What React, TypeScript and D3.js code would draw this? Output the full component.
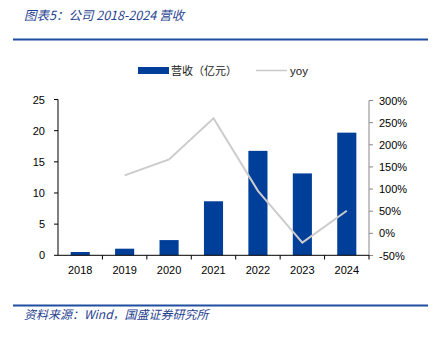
import React from "react";
import * as d3 from "d3";

const years = ["2018", "2019", "2020", "2021", "2022", "2023", "2024"];
const revenue = [0.53, 1.06, 2.44, 8.67, 16.76, 13.14, 19.68];
const yoy: (number | null)[] = [null, 131, 167, 260, 96, -21, 51];
const leftTicks = [0, 5, 10, 15, 20, 25];
const rightTicks = [-50, 0, 50, 100, 150, 200, 250, 300];

const W = 434;
const H = 337;
const FONT = "'Liberation Sans', Arial, sans-serif";
const CJK = "'Noto Sans CJK SC', sans-serif";

export default function App() {
  const x = d3.scaleBand().domain(years).range([58, 369]).paddingInner(0.57).paddingOuter(0.285);
  const yL = d3.scaleLinear().domain([0, 25]).range([255.3, 99.5]);
  const yR = d3.scaleLinear().domain([-50, 300]).range([255.5, 100.5]);
  const cx = (d: string) => (x(d) as number) + x.bandwidth() / 2;
  const line = d3
    .line<[string, number | null]>()
    .defined((d) => d[1] !== null)
    .x((d) => cx(d[0]))
    .y((d) => yR(d[1] as number));
  const pairs: [string, number | null][] = years.map((y, i) => [y, yoy[i]]);
  const step = (369 - 58) / years.length;

  return (
    <svg width={W} height={H} style={{ position: "absolute", left: 0, top: 0, background: "#fff" }}>
      <text x={24} y={20} fontFamily={CJK} fontStyle="italic" fontSize={12.5} fill="#1f3f8f">
        图表5：公司 2018-2024 营收
      </text>
      <line x1={13} x2={428} y1={39.5} y2={39.5} stroke="#1f4ea0" strokeWidth={2} />

      {/* legend */}
      <rect x={138} y={67} width={31} height={7} fill="#003f99" />
      <text x={171} y={74.5} fontFamily={CJK} fontSize={11} fill="#222">营收（亿元）</text>
      <line x1={256} x2={287} y1={70.5} y2={70.5} stroke="#c8c8c8" strokeWidth={1.5} />
      <text x={290} y={74.5} fontFamily={FONT} fontSize={11.5} fill="#222">yoy</text>

      {/* bars */}
      {revenue.map((v, i) => (
        <rect key={years[i]} x={x(years[i])} y={yL(v)} width={x.bandwidth()} height={yL(0) - yL(v)} fill="#003f99" />
      ))}

      {/* yoy line */}
      <path d={line(pairs) || ""} fill="none" stroke="#cccccc" strokeWidth={2} />

      {/* left axis */}
      <line x1={58} x2={58} y1={yL(25)} y2={yL(0)} stroke="#000" strokeWidth={1} />
      {leftTicks.map((t) => (
        <g key={t}>
          <line x1={54} x2={58} y1={yL(t)} y2={yL(t)} stroke="#000" />
          <text x={45} y={yL(t) + 4} textAnchor="end" fontFamily={FONT} fontSize={11} fill="#000">{t}</text>
        </g>
      ))}

      {/* right axis */}
      <line x1={369} x2={369} y1={yR(300)} y2={yR(-50)} stroke="#888" strokeWidth={1} />
      {rightTicks.map((t) => (
        <g key={t}>
          <line x1={369} x2={373} y1={yR(t)} y2={yR(t)} stroke="#888" />
          <text x={379} y={yR(t) + 4} fontFamily={FONT} fontSize={11} fill="#000">{t}%</text>
        </g>
      ))}

      {/* x axis */}
      <line x1={58} x2={369} y1={255.3} y2={255.3} stroke="#000" />
      {years.map((y, i) => (
        <g key={y}>
          <line x1={58 + step * (i + 1)} x2={58 + step * (i + 1)} y1={255.3} y2={259.5} stroke="#000" />
          <text x={cx(y)} y={274} textAnchor="middle" fontFamily={FONT} fontSize={11} fill="#000">{y}</text>
        </g>
      ))}

      <line x1={13} x2={428} y1={305.5} y2={305.5} stroke="#1f4ea0" strokeWidth={2} />
      <text x={24} y={319} fontFamily={CJK} fontStyle="italic" fontSize={12} fill="#1f3f8f">
        资料来源：Wind，国盛证券研究所
      </text>
    </svg>
  );
}
